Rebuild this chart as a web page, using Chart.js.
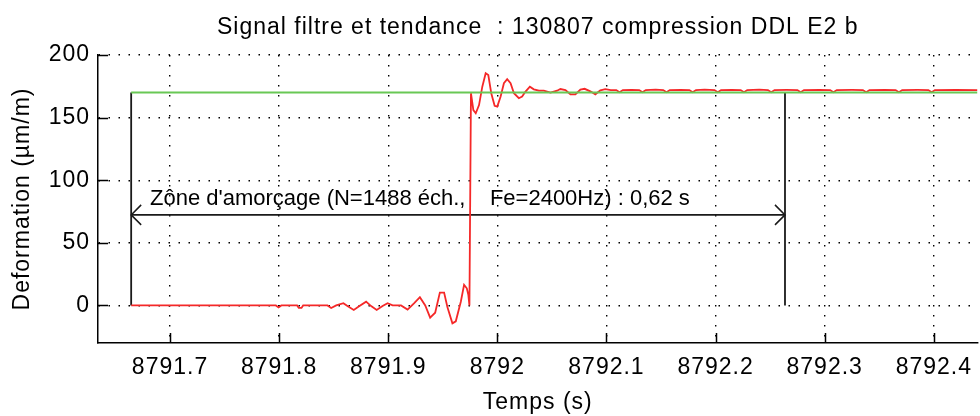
<!DOCTYPE html>
<html>
<head>
<meta charset="utf-8">
<script src="https://cdn.jsdelivr.net/npm/chart.js@4.4.0/dist/chart.umd.min.js"></script>
<style>
  html, body { margin: 0; padding: 0; background: #fff; }
  #cadre { width: 980px; height: 416px; }
</style>
</head>
<body>
<div id="cadre"><canvas id="graphe"></canvas></div>
<script>
// signal filtre : temps (s) / deformation (µm/m)
const TEMPS = [
  8791.6644, 8791.7970, 8791.7995, 8791.8020, 8791.8165, 8791.8180, 8791.8205, 8791.8220,
  8791.8443, 8791.8477, 8791.8523, 8791.8589, 8791.8626, 8791.8684, 8791.8736, 8791.8797,
  8791.8843, 8791.8894, 8791.8948, 8791.8994, 8791.9040, 8791.9117, 8791.9177, 8791.9238,
  8791.9290, 8791.9339, 8791.9384, 8791.9430, 8791.9473, 8791.9512, 8791.9542, 8791.9588,
  8791.9619, 8791.9665, 8791.9695, 8791.9720, 8791.9734, 8791.9744, 8791.9758, 8791.9780,
  8791.9802, 8791.9832, 8791.9862, 8791.9893, 8791.9917, 8791.9944, 8791.9975, 8791.9999,
  8792.0030, 8792.0060, 8792.0090, 8792.0121, 8792.0152, 8792.0197, 8792.0227, 8792.0258,
  8792.0298, 8792.0334, 8792.0380, 8792.0426, 8792.0487, 8792.0547, 8792.0578, 8792.0624,
  8792.0670, 8792.0715, 8792.0761, 8792.0800, 8792.0852, 8792.0898, 8792.0944, 8792.0989,
  8792.1040, 8792.1090, 8792.1120, 8792.1150, 8792.1230, 8792.1300, 8792.1330, 8792.1360,
  8792.1450, 8792.1520, 8792.1550, 8792.1580, 8792.1680, 8792.1760, 8792.1790, 8792.1820,
  8792.1900, 8792.1990, 8792.2020, 8792.2050, 8792.2150, 8792.2230, 8792.2260, 8792.2290,
  8792.2400, 8792.2480, 8792.2510, 8792.2540, 8792.2650, 8792.2750, 8792.2780, 8792.2810,
  8792.2950, 8792.3050, 8792.3080, 8792.3110, 8792.3250, 8792.3350, 8792.3380, 8792.3410,
  8792.3550, 8792.3650, 8792.3680, 8792.3710, 8792.3850, 8792.3950, 8792.3980, 8792.4010,
  8792.4200, 8792.4400
];
const SIGNAL = [
  0, 0, -1.6, 0, 0, -2, -2, 0,
  0, -2, 0, 1.8, -0.5, -3.6, -0.5, 3,
  -0.5, -3.6, -0.5, 1.8, 0, 0, -3.3, 1.8,
  6.6, 0, -9.8, -5.8, 10.3, 10.3, -1.3, -14.3,
  -12.7, 3, 16.4, 13.7, 8.4, 0, 169.5, 156,
  153.5, 160, 174.7, 185.4, 184, 169.5, 159.4, 158.8,
  166.8, 177.5, 180.7, 177.5, 169.5, 165.5, 166.8, 170.8,
  174.7, 172.6, 171.5, 171.5, 170, 171.5, 172.8, 172,
  168.5, 168.5, 172.4, 173, 171, 168.6, 171.8, 172.8,
  172, 172, 170.3, 172, 172.2, 172, 170.3, 172,
  172.4, 172, 170.3, 172, 172.2, 172, 170.3, 172,
  172.3, 172, 170.3, 172, 172.2, 172, 170.3, 172,
  172.3, 172, 170.3, 172, 172.1, 172, 170.3, 172,
  172.2, 172, 170.3, 172, 172.1, 172, 170.3, 172,
  172.2, 172, 170.3, 172, 172.1, 172, 170.3, 172,
  172.2, 172
];

// tendance
const TEMPS_TENDANCE = [8791.6644, 8792.4400];
const TENDANCE = [170, 170];

// zone d'amorcage
const DEBUT_ZONE = 8791.6644;
const FIN_ZONE = 8792.2636;
const NIVEAU_BAS = 0;
const NIVEAU_HAUT = 170;
const NIVEAU_FLECHE = 72.3;
const TEXTE_ZONE = "Zône d'amorçage (N=1488 éch.,    Fe=2400Hz) : 0,62 s";

// axes
const TICKS_X = [8791.7, 8791.8, 8791.9, 8792.0, 8792.1, 8792.2, 8792.3, 8792.4];
const TICKS_Y = [0, 50, 100, 150, 200];
const TITRE = "Signal filtre et tendance  : 130807 compression DDL E2 b";
const TITRE_X = "Temps (s)";
const TITRE_Y = "Deformation (µm/m)";

const POLICE = "'Liberation Sans', Arial, sans-serif";
const ROUGE = "rgb(245, 40, 40)";
const VERT = "rgb(105, 200, 85)";
const NOIR = "#1a1a1a";

function paires(xs, ys) {
  return xs.map((x, i) => ({ x: x, y: ys[i] }));
}

/*********- dessins en plus : titre, graduations internes, fleches, texte -*********/
const habillage = {
  id: "habillage",
  beforeDraw(chart) {
    // texte un peu espace comme sur les figures matlab
    chart.ctx.letterSpacing = "1px";
  },
  afterDraw(chart) {
    const ctx = chart.ctx;
    const ca = chart.chartArea;
    const sx = chart.scales.x;
    const sy = chart.scales.y;
    ctx.save();

    // titre
    ctx.fillStyle = "#000";
    ctx.font = "23px " + POLICE;
    ctx.textAlign = "center";
    ctx.textBaseline = "middle";
    ctx.fillText(TITRE, (ca.left + ca.right) / 2, 28);

    // graduations vers l'interieur (style matlab)
    ctx.strokeStyle = "#000";
    ctx.lineWidth = 1.5;
    ctx.beginPath();
    TICKS_Y.forEach(v => {
      const py = Math.round(sy.getPixelForValue(v)) + 0.5;
      ctx.moveTo(ca.left, py);
      ctx.lineTo(ca.left + 10, py);
    });
    TICKS_X.forEach(v => {
      const px = Math.round(sx.getPixelForValue(v)) + 0.5;
      ctx.moveTo(px, ca.bottom);
      ctx.lineTo(px, ca.bottom - 10);
    });
    ctx.stroke();

    // pointes de la fleche
    const yF = sy.getPixelForValue(NIVEAU_FLECHE);
    const xG = sx.getPixelForValue(DEBUT_ZONE);
    const xD = sx.getPixelForValue(FIN_ZONE);
    ctx.strokeStyle = NOIR;
    ctx.lineWidth = 1.5;
    ctx.beginPath();
    ctx.moveTo(xG + 10, yF - 10);
    ctx.lineTo(xG, yF);
    ctx.lineTo(xG + 10, yF + 10);
    ctx.moveTo(xD - 10, yF - 10);
    ctx.lineTo(xD, yF);
    ctx.lineTo(xD - 10, yF + 10);
    ctx.stroke();

    // texte de la zone
    ctx.letterSpacing = "0px";
    ctx.fillStyle = "#000";
    ctx.font = "22px " + POLICE;
    ctx.textAlign = "left";
    ctx.textBaseline = "alphabetic";
    ctx.fillText(TEXTE_ZONE, 150, 205);

    ctx.restore();
  }
};

const donnees = {
  datasets: [
    {
      label: "tendance",
      data: paires(TEMPS_TENDANCE, TENDANCE),
      borderColor: VERT,
      borderWidth: 2,
      order: 0
    },
    {
      label: "signal",
      data: paires(TEMPS, SIGNAL),
      borderColor: ROUGE,
      borderWidth: 1.8,
      order: 1
    },
    {
      label: "debut zone",
      data: [{ x: DEBUT_ZONE, y: NIVEAU_BAS }, { x: DEBUT_ZONE, y: NIVEAU_HAUT }],
      borderColor: NOIR,
      borderWidth: 1.8,
      order: 2
    },
    {
      label: "fin zone",
      data: [{ x: FIN_ZONE, y: NIVEAU_BAS }, { x: FIN_ZONE, y: NIVEAU_HAUT }],
      borderColor: NOIR,
      borderWidth: 1.8,
      order: 2
    },
    {
      label: "fleche",
      data: [{ x: DEBUT_ZONE, y: NIVEAU_FLECHE }, { x: FIN_ZONE, y: NIVEAU_FLECHE }],
      borderColor: NOIR,
      borderWidth: 1.8,
      order: 2
    }
  ]
};

const options = {
  responsive: true,
  maintainAspectRatio: false,
  animation: false,
  layout: { padding: { top: 55, right: 0, bottom: 0, left: 0 } },
  elements: {
    point: { radius: 0 },
    line: { tension: 0, fill: false }
  },
  plugins: {
    legend: { display: false },
    tooltip: { enabled: false },
    title: { display: false }
  },
  scales: {
    x: {
      type: "linear",
      min: 8791.634,
      max: 8792.44,
      afterBuildTicks: s => { s.ticks = TICKS_X.map(v => ({ value: v })); },
      afterFit: s => { s.height = 73; },
      ticks: {
        color: "#000",
        padding: 11,
        maxRotation: 0,
        font: { family: POLICE, size: 23 },
        callback: v => String(Number(v.toFixed(1)))
      },
      grid: { color: "#000", lineWidth: 1.4, drawTicks: false },
      border: { display: true, color: "#000", width: 1.5, dash: [1.5, 8.5] },
      title: {
        display: true,
        text: TITRE_X,
        color: "#000",
        font: { family: POLICE, size: 23 },
        padding: { top: 0, bottom: 0 }
      }
    },
    y: {
      type: "linear",
      min: -30,
      max: 200,
      afterBuildTicks: s => { s.ticks = TICKS_Y.map(v => ({ value: v })); },
      afterFit: s => { s.width = 98; },
      ticks: {
        color: "#000",
        padding: 8,
        font: { family: POLICE, size: 23 }
      },
      grid: { color: "#000", lineWidth: 1.4, drawTicks: false },
      border: { display: true, color: "#000", width: 1.5, dash: [1.5, 8.5] },
      title: {
        display: true,
        text: TITRE_Y,
        color: "#000",
        font: { family: POLICE, size: 23 },
        padding: { top: 9, bottom: 0 }
      }
    }
  }
};

new Chart(document.getElementById("graphe").getContext("2d"), {
  type: "line",
  data: donnees,
  options: options,
  plugins: [habillage]
});
</script>
</body>
</html>
